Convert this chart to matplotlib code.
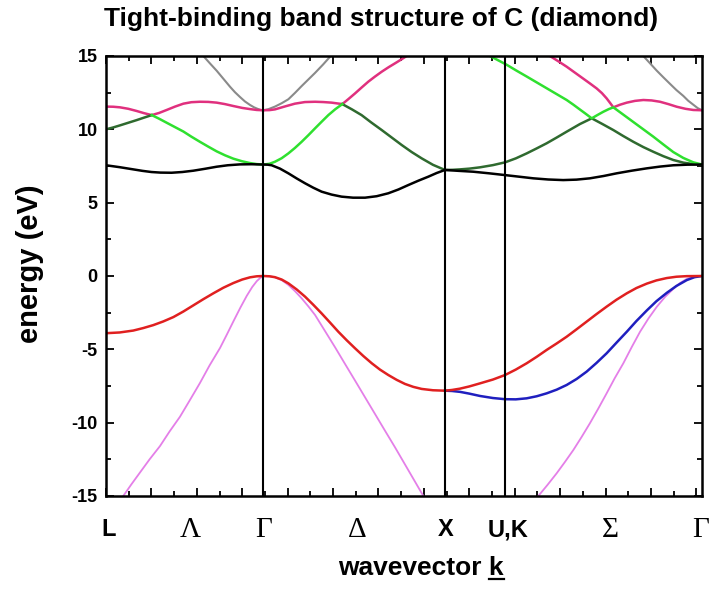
import matplotlib
matplotlib.use('Agg')
import matplotlib.pyplot as plt
from matplotlib.ticker import MultipleLocator
from matplotlib.lines import Line2D

# symmetry points along the path L - Gamma - X - U,K - Gamma
sym_k = [0.0, 0.866, 1.866, 2.197, 3.281]
kpt_labels = ['L', 'Λ', 'Γ', 'Δ', 'X', 'U,K', 'Σ', 'Γ']
kpt_label_k = [0.017, 0.462, 0.866, 1.382, 1.872, 2.213, 2.775, 3.276]
greek = ['Λ', 'Γ', 'Δ', 'Σ']

# bands, (k, energy in eV)
red = [(0.000, -3.90), (0.075, -3.85), (0.150, -3.72), (0.205, -3.55), (0.260, -3.35),
       (0.315, -3.10), (0.371, -2.80), (0.426, -2.42), (0.481, -2.00), (0.536, -1.58),
       (0.591, -1.18), (0.646, -0.80), (0.701, -0.48), (0.750, -0.24), (0.793, -0.09),
       (0.830, -0.02), (0.866, 0.00),
       (0.900, -0.02), (0.930, -0.08), (0.967, -0.24), (1.004, -0.50), (1.050, -0.92),
       (1.096, -1.41), (1.141, -1.96), (1.187, -2.55), (1.233, -3.17), (1.279, -3.80),
       (1.325, -4.38), (1.371, -4.93), (1.417, -5.46), (1.463, -5.95), (1.508, -6.38),
       (1.554, -6.75), (1.600, -7.08), (1.646, -7.36), (1.692, -7.56), (1.738, -7.70),
       (1.800, -7.79), (1.866, -7.82),
       (1.905, -7.77), (1.949, -7.68), (2.000, -7.53), (2.059, -7.32), (2.130, -7.06),
       (2.197, -6.75), (2.256, -6.38), (2.316, -5.95), (2.371, -5.51), (2.426, -5.04),
       (2.481, -4.60), (2.536, -4.14), (2.591, -3.63), (2.646, -3.11), (2.700, -2.60),
       (2.756, -2.09), (2.810, -1.62), (2.867, -1.18), (2.920, -0.82), (2.977, -0.52),
       (3.030, -0.30), (3.087, -0.14), (3.140, -0.05), (3.197, -0.01), (3.281, 0.00)]

blue = [(1.866, -7.82), (1.905, -7.84), (1.949, -7.90), (2.000, -8.02), (2.059, -8.18),
        (2.130, -8.32), (2.197, -8.40), (2.256, -8.41), (2.316, -8.34), (2.371, -8.20),
        (2.426, -8.00), (2.481, -7.75), (2.536, -7.43), (2.591, -7.02), (2.646, -6.52),
        (2.700, -5.93), (2.756, -5.27), (2.810, -4.55), (2.867, -3.80), (2.920, -3.07),
        (2.977, -2.35), (3.030, -1.72), (3.087, -1.15), (3.140, -0.68), (3.197, -0.28),
        (3.240, -0.08), (3.281, 0.00)]

violet_lam = [(0.095, -15.0), (0.140, -14.2), (0.187, -13.4), (0.240, -12.5), (0.297, -11.6),
              (0.350, -10.6), (0.407, -9.6), (0.460, -8.5), (0.517, -7.3), (0.570, -6.1),
              (0.628, -4.9), (0.665, -4.0), (0.701, -3.1), (0.740, -2.15), (0.775, -1.35),
              (0.805, -0.75), (0.830, -0.35), (0.850, -0.12), (0.866, 0.0)]
violet_del = [(0.866, 0.0), (0.900, -0.02), (0.930, -0.09), (0.967, -0.28), (1.004, -0.61),
              (1.040, -1.03), (1.077, -1.52), (1.114, -2.07), (1.151, -2.66), (1.206, -3.76),
              (1.261, -4.86), (1.316, -6.00), (1.371, -7.13), (1.426, -8.27), (1.481, -9.41),
              (1.536, -10.55), (1.591, -11.68), (1.646, -12.85), (1.701, -14.02),
              (1.747, -15.0)]
violet_sig = [(2.380, -15.0), (2.430, -14.25), (2.481, -13.45), (2.527, -12.67),
              (2.573, -11.86), (2.618, -10.98), (2.664, -10.04), (2.710, -9.04),
              (2.756, -8.00), (2.800, -6.98), (2.848, -5.95), (2.894, -4.85), (2.940, -3.80),
              (2.986, -2.90), (3.032, -2.10), (3.078, -1.42), (3.123, -0.88), (3.160, -0.48),
              (3.197, -0.20), (3.240, -0.05), (3.281, 0.00)]

black = [(0.000, 7.55), (0.075, 7.42), (0.150, 7.27), (0.200, 7.17), (0.250, 7.09),
         (0.300, 7.05), (0.361, 7.04), (0.420, 7.09), (0.481, 7.18), (0.545, 7.31),
         (0.609, 7.45), (0.670, 7.55), (0.738, 7.61), (0.800, 7.62), (0.866, 7.60),
         (0.890, 7.59), (0.912, 7.55), (0.958, 7.32), (1.004, 7.00), (1.050, 6.65),
         (1.096, 6.32), (1.141, 6.02), (1.187, 5.75), (1.242, 5.55), (1.297, 5.41),
         (1.360, 5.34), (1.426, 5.34), (1.490, 5.44), (1.554, 5.64), (1.610, 5.90),
         (1.664, 6.20), (1.720, 6.50), (1.774, 6.77), (1.820, 7.02), (1.866, 7.23),
         (1.940, 7.17), (2.022, 7.11), (2.110, 7.00), (2.197, 6.88), (2.275, 6.77),
         (2.352, 6.66), (2.435, 6.58), (2.517, 6.54), (2.590, 6.57), (2.664, 6.66),
         (2.740, 6.82), (2.811, 7.00), (2.894, 7.18), (2.977, 7.34), (3.050, 7.46),
         (3.123, 7.55), (3.200, 7.59), (3.281, 7.60)]

dkgreen_lam = [(0.000, 10.00), (0.040, 10.13), (0.077, 10.27), (0.123, 10.45),
               (0.169, 10.63), (0.210, 10.80), (0.252, 10.97)]
dkgreen_del = [(1.301, 11.72), (1.354, 11.36), (1.407, 10.97), (1.460, 10.47),
               (1.518, 9.95), (1.573, 9.44), (1.628, 8.93), (1.683, 8.45), (1.738, 8.02),
               (1.800, 7.58), (1.866, 7.23), (1.910, 7.24), (1.949, 7.27), (2.000, 7.32),
               (2.059, 7.41), (2.130, 7.56), (2.197, 7.75), (2.256, 8.02), (2.316, 8.36),
               (2.371, 8.70), (2.426, 9.05), (2.481, 9.44), (2.536, 9.84), (2.609, 10.36),
               (2.674, 10.75), (2.733, 10.36), (2.793, 9.95), (2.848, 9.54), (2.903, 9.15),
               (2.958, 8.79), (3.013, 8.47), (3.068, 8.17), (3.123, 7.91), (3.178, 7.73),
               (3.233, 7.63), (3.281, 7.60)]

green_lam = [(0.252, 10.97), (0.293, 10.72), (0.334, 10.45), (0.380, 10.15), (0.426, 9.85),
             (0.470, 9.50), (0.517, 9.15), (0.563, 8.82), (0.609, 8.50), (0.655, 8.23),
             (0.701, 8.00), (0.750, 7.82), (0.793, 7.70), (0.830, 7.63), (0.866, 7.60),
             (0.900, 7.65), (0.930, 7.79), (0.967, 8.03), (1.004, 8.36), (1.040, 8.73),
             (1.077, 9.15), (1.114, 9.60), (1.151, 10.07), (1.188, 10.53), (1.224, 10.97),
             (1.262, 11.37), (1.301, 11.72)]
green_sig = [(2.114, 15.0), (2.160, 14.70), (2.206, 14.40), (2.260, 14.00), (2.316, 13.60),
             (2.371, 13.20), (2.426, 12.80), (2.481, 12.40), (2.536, 12.00), (2.573, 11.68),
             (2.609, 11.35), (2.642, 11.05), (2.674, 10.75), (2.706, 10.98), (2.738, 11.20),
             (2.768, 11.38), (2.793, 11.50), (2.848, 11.00), (2.903, 10.50), (2.958, 10.00),
             (3.013, 9.50), (3.068, 8.97), (3.123, 8.45), (3.178, 8.05), (3.233, 7.75),
             (3.281, 7.60)]

pink_lam = [(0.000, 11.55), (0.040, 11.54), (0.077, 11.50), (0.123, 11.40), (0.169, 11.25),
            (0.210, 11.10), (0.252, 10.97), (0.293, 11.12), (0.334, 11.32), (0.380, 11.55),
            (0.426, 11.75), (0.470, 11.85), (0.517, 11.88), (0.563, 11.87), (0.609, 11.82),
            (0.655, 11.72), (0.701, 11.59), (0.750, 11.46), (0.793, 11.38), (0.830, 11.32),
            (0.866, 11.30), (0.900, 11.31), (0.930, 11.36), (0.985, 11.56), (1.040, 11.75),
            (1.095, 11.86), (1.151, 11.88), (1.196, 11.86), (1.242, 11.82), (1.301, 11.72),
            (1.336, 12.08), (1.371, 12.45), (1.408, 12.86), (1.444, 13.25), (1.481, 13.60),
            (1.518, 13.93), (1.555, 14.23), (1.591, 14.50), (1.625, 14.76), (1.655, 15.0)]
pink_sig = [(2.444, 15.0), (2.490, 14.64), (2.536, 14.27), (2.582, 13.86), (2.628, 13.45),
            (2.665, 13.12), (2.701, 12.79), (2.730, 12.47), (2.756, 12.11), (2.775, 11.80),
            (2.793, 11.50), (2.830, 11.68), (2.867, 11.82), (2.912, 11.94), (2.958, 12.00),
            (3.004, 11.97), (3.050, 11.88), (3.096, 11.72), (3.142, 11.54), (3.190, 11.40),
            (3.233, 11.32), (3.281, 11.30)]

gray_lam = [(0.536, 15.0), (0.572, 14.50), (0.609, 14.00), (0.646, 13.45), (0.683, 12.90),
            (0.710, 12.53), (0.738, 12.20), (0.765, 11.90), (0.793, 11.66), (0.815, 11.50),
            (0.838, 11.38), (0.853, 11.32), (0.866, 11.30)]
gray_del = [(0.866, 11.30), (0.895, 11.38), (0.930, 11.55), (0.967, 11.78), (1.004, 12.05),
            (1.040, 12.48), (1.077, 12.95), (1.114, 13.40), (1.151, 13.85), (1.195, 14.42),
            (1.237, 15.0)]
gray_sig = [(2.958, 15.0), (2.995, 14.50), (3.032, 14.00), (3.068, 13.55), (3.105, 13.10),
            (3.140, 12.68), (3.178, 12.28), (3.205, 11.95), (3.233, 11.68), (3.257, 11.45),
            (3.281, 11.30)]

plt.rcParams['font.family'] = ['Liberation Sans', 'DejaVu Sans']
plt.rcParams['axes.unicode_minus'] = False

fig = plt.figure(figsize=(7.1, 5.9), dpi=100)
ax = fig.add_axes([106/710, 1-496/590, 596/710, 440/590])

curves = [(gray_lam, '#8a8a8a', 1.5), (gray_del, '#8a8a8a', 1.5), (gray_sig, '#8a8a8a', 1.5),
          (violet_lam, '#e47fe8', 1.3), (violet_del, '#e47fe8', 1.3), (violet_sig, '#e47fe8', 1.3),
          (pink_lam, '#e0307e', 1.8), (pink_sig, '#e0307e', 1.8),
          (dkgreen_lam, '#2f6a2f', 1.8), (dkgreen_del, '#2f6a2f', 1.8),
          (green_lam, '#2fe02f', 1.8), (green_sig, '#2fe02f', 1.8),
          (black, 'black', 1.8), (blue, '#1f1fbf', 1.8), (red, '#e02020', 1.8)]
for pts, col, lw in curves:
    kk, ee = zip(*pts)
    ax.plot(kk, ee, color=col, lw=lw, solid_joinstyle='round')

for k in sym_k[1:4]:
    ax.axvline(k, color='black', lw=1.5)

ax.set_xlim(sym_k[0], sym_k[-1])
ax.set_ylim(-15, 15)
ax.xaxis.set_major_locator(MultipleLocator(0.25))
ax.xaxis.set_minor_locator(MultipleLocator(0.125))
ax.yaxis.set_major_locator(MultipleLocator(5))
ax.yaxis.set_minor_locator(MultipleLocator(2.5))
ax.tick_params(which='both', direction='in', top=True, right=True, width=1.3)
ax.tick_params(which='major', length=6)
ax.tick_params(which='minor', length=3.5)
ax.tick_params(axis='x', labelbottom=False)
ax.tick_params(axis='y', labelsize=13, pad=6)
for lab in ax.get_yticklabels():
    lab.set_fontweight('bold')
for s in ax.spines.values():
    s.set_linewidth(1.8)

for lab, k in zip(kpt_labels, kpt_label_k):
    if lab in greek:
        ax.text(k, -0.077, lab, transform=ax.get_xaxis_transform(), ha='center', va='center',
                fontsize=21, family=['Liberation Serif', 'DejaVu Serif'])
    else:
        ax.text(k, -0.077, lab, transform=ax.get_xaxis_transform(), ha='center', va='center',
                fontsize=17, fontweight='bold')

fig.text(381/710, 1-19/590, 'Tight-binding band structure of C (diamond)', ha='center',
         va='center', fontsize=19, fontweight='bold')
fig.text(30/710, 1-264/590, 'energy (eV)', rotation=90, ha='center', va='center',
         fontsize=21, fontweight='bold')
xl = fig.text(421/710, 1-568/590, 'wavevector k', ha='center', va='center',
              fontsize=19, fontweight='bold')

# underline the k
fig.canvas.draw()
r = fig.canvas.get_renderer()
bb = xl.get_window_extent(r)
kt = fig.text(0, 0, 'k', fontsize=19, fontweight='bold')
kw = kt.get_window_extent(r).width
kt.remove()
y_ul = (bb.y0 + 1) / fig.bbox.height
fig.add_artist(Line2D([(bb.x1 - kw) / fig.bbox.width, bb.x1 / fig.bbox.width], [y_ul, y_ul],
                      transform=fig.transFigure, color='black', lw=1.6))

fig.savefig('out.png', dpi=100)
